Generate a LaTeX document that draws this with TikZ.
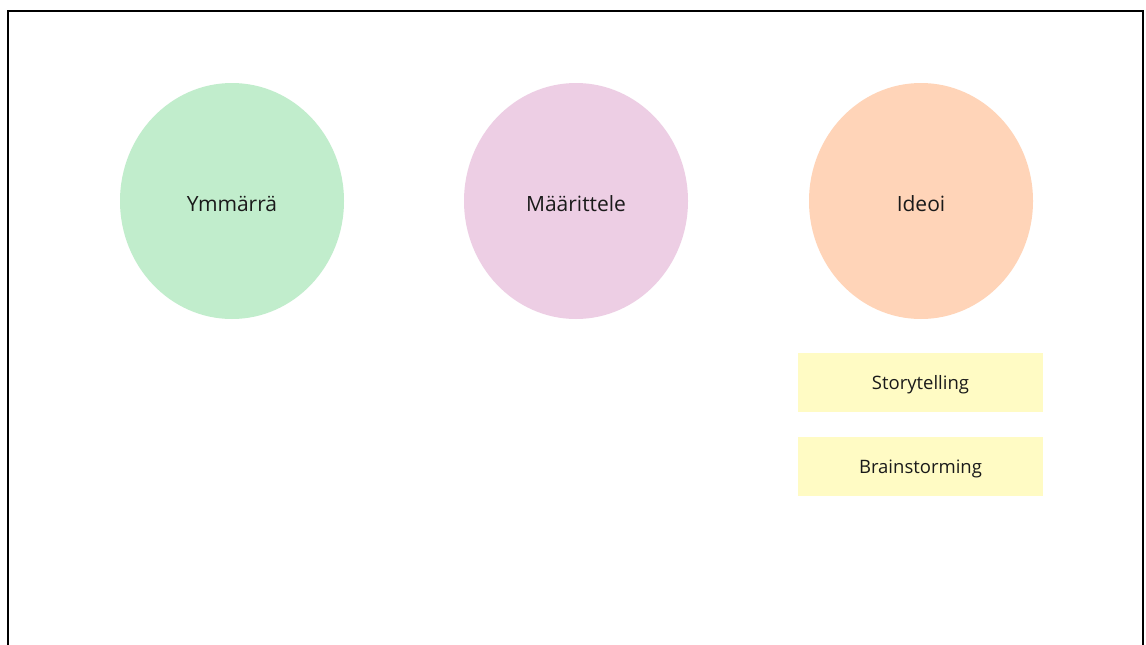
\documentclass[tikz,border=0pt]{standalone}
\usepackage{fontspec}
\setmainfont{Open Sans}
\usetikzlibrary{shapes.geometric}
\definecolor{phasegreen}{HTML}{C1EDCC}
\definecolor{phasepink}{HTML}{EDCEE4}
\definecolor{phaseorange}{HTML}{FFD4B8}
\definecolor{methodyellow}{HTML}{FFFBC4}
\definecolor{labelink}{HTML}{1A1A1A}
% lower a label without changing the box size the node centres on
\newcommand{\lowered}[1]{\raisebox{-2.5pt}[\height][\depth]{#1}}
\begin{document}
\begin{tikzpicture}[x=1pt,y=-1pt,
  phase/.style={ellipse,minimum width=224pt,minimum height=236pt,inner sep=0pt,text=labelink,font=\fontsize{21}{25}\selectfont},
  method/.style={rectangle,minimum width=245pt,minimum height=59pt,inner sep=0pt,fill=methodyellow,text=labelink,font=\fontsize{18.5}{22}\selectfont}]
\useasboundingbox (0,0) rectangle (1146,645);
\fill[white] (0,0) rectangle (1146,645);
% frame open at the bottom
\draw[line width=2pt] (8,650) -- (8,11) -- (1143,11) -- (1143,650);
% phases
\node[phase,fill=phasegreen] (ymmarra) at (232,201) {\lowered{Ymmärrä}};
\node[phase,fill=phasepink] (maarittele) at (576,201) {\lowered{Määrittele}};
\node[phase,fill=phaseorange] (ideoi) at (921,201) {\lowered{Ideoi}};
% methods
\node[method] (story) at (920.5,382.5) {\lowered{Storytelling}};
\node[method] (brain) at (920.5,466) {\lowered{Brainstorming}};
\end{tikzpicture}
\end{document}
